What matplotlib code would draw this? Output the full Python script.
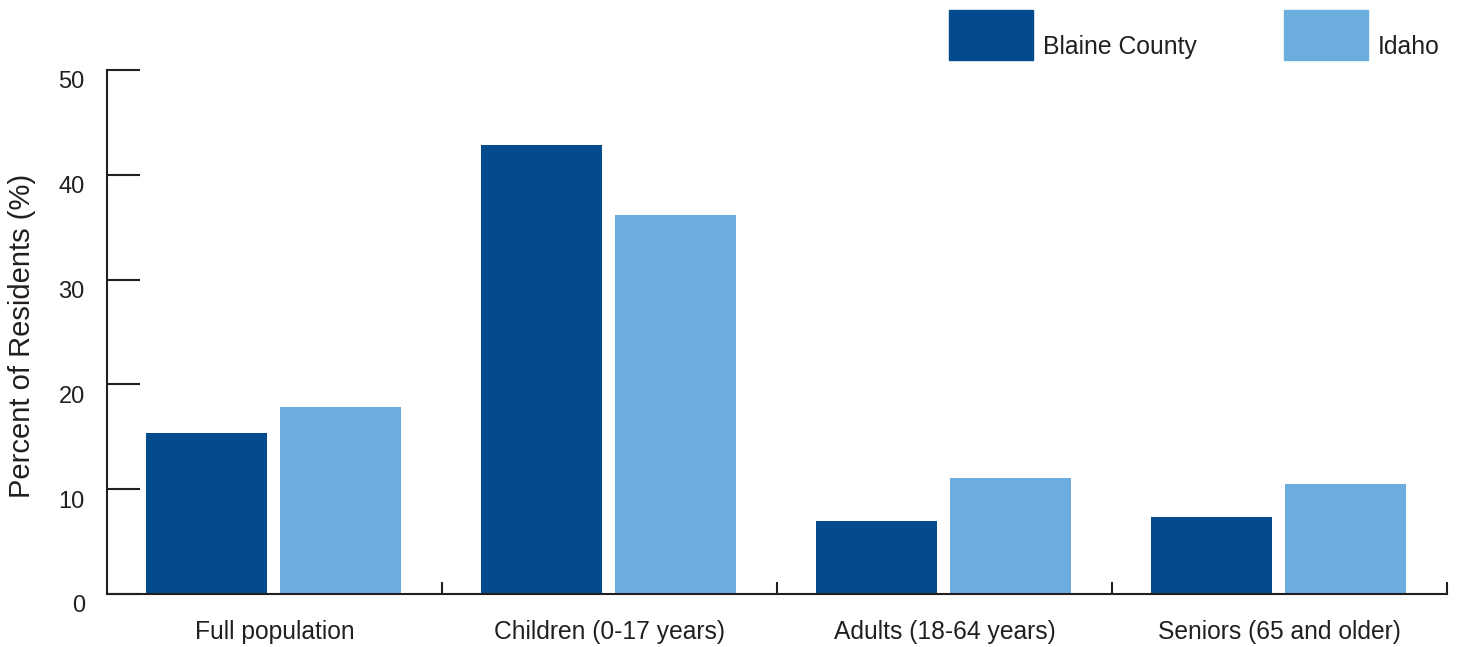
import numpy as np
import matplotlib.pyplot as plt
from matplotlib.patches import Rectangle
from matplotlib.transforms import ScaledTranslation

plt.rcParams['font.family'] = ['Liberation Sans', 'DejaVu Sans']

categories = ["Full population", "Children (0-17 years)",
              "Adults (18-64 years)", "Seniors (65 and older)"]
blaine = [15.4, 42.8, 7.0, 7.3]
idaho = [17.8, 36.2, 11.1, 10.5]
series_names = ["Blaine County", "Idaho"]
colors = ["#034B8C", "#6BADDF"]
ink = "#231F20"

W, H = 1460, 647
fig = plt.figure(figsize=(W / 100, H / 100), dpi=100)
ax = fig.add_axes([107 / W, 1 - 594 / H, 1340 / W, 524 / H])

x = np.arange(len(categories)) + 0.5
width = 0.362
ax.bar(x - 0.203, blaine, width, color=colors[0], zorder=1)
ax.bar(x + 0.196, idaho, width, color=colors[1], zorder=1)

ax.set_xlim(0, len(categories))
ax.set_ylim(0, 50)

for s in ["top", "right"]:
    ax.spines[s].set_visible(False)
for s in ["left", "bottom"]:
    ax.spines[s].set_color(ink)
    ax.spines[s].set_linewidth(1.5)
    ax.spines[s].set_zorder(3)

# y ticks point into the plot, labels sit a bit under the tick
ax.set_yticks([0, 10, 20, 30, 40, 50])
ax.tick_params(axis="y", direction="in", length=24, width=1.5, color=ink,
               labelsize=17, labelcolor=ink, pad=16)
off = ScaledTranslation(0, -10 / 100, fig.dpi_scale_trans)
for lbl in ax.get_yticklabels():
    lbl.set_transform(lbl.get_transform() + off)

# group separators as major ticks, names as minor ticks
ax.set_xticks(np.arange(1, len(categories) + 1))
ax.set_xticklabels([])
ax.set_xticks(x, minor=True)
ax.set_xticklabels(categories, minor=True)
ax.tick_params(axis="x", which="major", direction="in", length=9,
               width=1.5, color=ink)
ax.tick_params(axis="x", which="minor", length=0, labelsize=17.7,
               labelcolor=ink, pad=18.5)

ax.set_ylabel("Percent of Residents (%)", fontsize=21, color=ink, va="center")
ax.yaxis.set_label_coords(-(107 - 22) / 1340, 0.492)

# legend drawn above the axes
for i, name in enumerate(series_names):
    x0 = [949, 1284][i]
    fig.add_artist(Rectangle((x0 / W, 1 - 60 / H), 84 / W, 50 / H,
                             transform=fig.transFigure, color=colors[i]))
    fig.text((x0 + 94) / W, 1 - 54 / H, name, fontsize=17.8, color=ink,
             va="baseline", ha="left")

fig.savefig("out.png", dpi=100)
